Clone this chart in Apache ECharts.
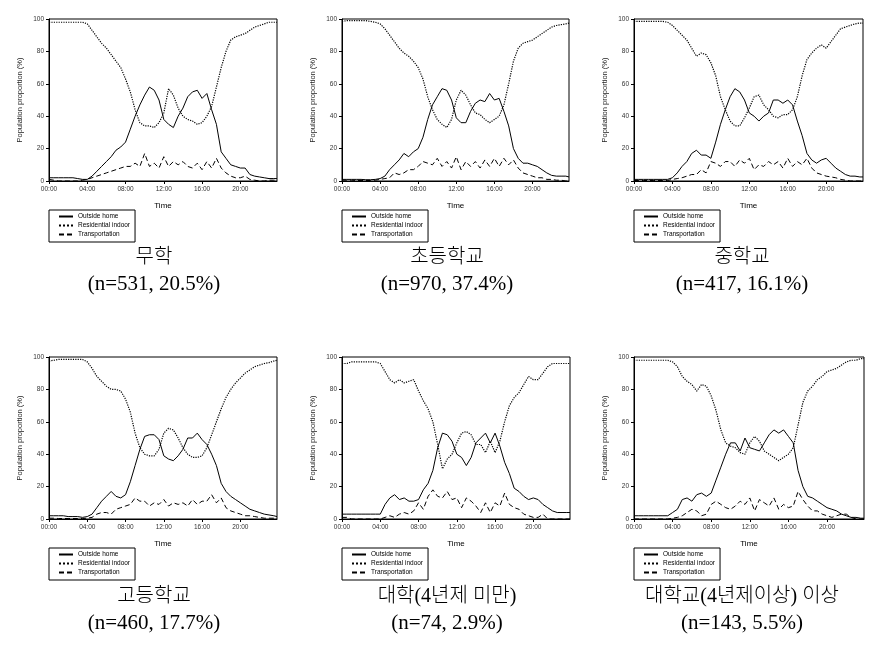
<!DOCTYPE html>
<html>
<head>
<meta charset="utf-8">
<script src="https://cdn.jsdelivr.net/npm/echarts@6/dist/echarts.min.js"></script>
<style>
html,body{margin:0;padding:0;background:#fff;}
#chart{width:883px;height:664px;}
</style>
</head>
<body>
<div id="chart"></div>
<script>
// time of day in hours (30-min steps, last point 23:50)
const times = [0,0.5,1,1.5,2,2.5,3,3.5,4,4.5,5,5.5,6,6.5,7,7.5,8,8.5,9,9.5,10,10.5,11,11.5,12,12.5,13,13.5,14,14.5,15,15.5,16,16.5,17,17.5,18,18.5,19,19.5,20,20.5,21,21.5,22,22.5,23,23.5,23.833];

const seriesNames = ['Outside home', 'Residential indoor', 'Transportation'];

const groupNames = ['무학', '초등학교', '중학교', '고등학교', '대학(4년제 미만)', '대학교(4년제이상) 이상'];
const groupSizes = ['(n=531, 20.5%)', '(n=970, 37.4%)', '(n=417, 16.1%)', '(n=460, 17.7%)', '(n=74, 2.9%)', '(n=143, 5.5%)'];

const xTicks = ['00:00', '04:00', '08:00', '12:00', '16:00', '20:00'];
const yTicks = [0, 20, 40, 60, 80, 100];

// 무학
const outside1 = [2,2,2,2,2,2,1.5,1,1,3,6,9,12,15,19,21,24,32,40,47,53,58,56,50,38,35,33,40,45,52,55,56,51,54,44,35,18,14,10,9,8,8,4,3,2.5,2,1.5,1.5,1.5];
const indoor1  = [98,98,98,98,98,98,98,98,97,93,89,85,82,78,74,70,63,55,44,36,34,34,33,36,42,57,53,45,40,38,37,35,36,40,46,58,70,80,87,89,90,91,93,95,96,97,98,98,98];
const transp1  = [1,0.5,0,0,0,0,0,0.5,1,2,3,4,5,6,7,8,9,9,11,9,17,9,11,8,15,9,12,10,12,9,8,11,7,12,8,14,8,5,3,2,2,3,1,0.5,0,0,0.5,0.5,0.5];

// 초등학교
const outside2 = [1,1,1,1,1,0.8,0.8,1,1.5,3,7,10,13,17,15,18,20,27,38,47,52,57,56,50,39,36,36,43,48,50,49,54,50,51,43,34,20,14,11,11,10,9,7,5,3.5,3,3,3,2.5];
const indoor2  = [98.5,99,99,99,99,99,98.5,98,97,94,90,86,82,79,77,74,70,63,52,44,38,35,33,38,50,56,53,47,42,41,38,36,38,40,47,60,74,82,85,86,87,89,91,93,95,96,96.5,97,97.5];
const transp2  = [0.5,0.5,0.5,0.3,0.3,0.3,0.3,0.5,1,1.5,2,5,4,5,7,7,9,12,11,10,14,9,12,8,15,7,12,9,12,8,13,9,14,9,14,10,13,8,5,4,3,2,2,1,1,0.5,0.5,0,0];

// 중학교
const outside3 = [1,1,1,1,1,1,1,1,2,5,9,12,17,19,16,16,14,24,35,44,52,57,55,50,42,40,37,40,42,50,50,48,50,47,37,28,17,13,11,13,14,11,8,6,4,3,3,2.5,2.5];
const indoor3  = [98.5,98.5,98.5,98.5,98.5,98.5,98.5,98,96,93,90,87,82,77,79,78,73,65,52,44,37,34,34,39,45,52,53,47,44,40,39,41,41,44,52,65,75,79,82,84,82,86,90,94,95,96,97,97.5,97.5];
const transp3  = [0.3,0.3,0.3,0.3,0.3,0.3,0.3,0.3,1,1.5,2,3,4,4,7,5,12,11,9,12,12,9,13,11,14,7,10,9,12,10,12,8,14,9,12,10,14,8,5,4,3,2.5,2,1,0.5,0,0,0,0];

// 고등학교
const outside4 = [2,2,2,2,1.5,1.5,1.5,1,1.5,3,7,11,14,17,14,13,15,23,33,43,51,52,52,49,39,37,36,39,43,50,50,53,49,46,40,33,22,17,14,12,10,8,6,5,4,3,2.5,2,1.5];
const indoor4  = [97.5,98,98.5,98.5,98.5,98.5,98.5,98.5,97,93,88,85,82,80,80,79,74,66,53,44,40,39,39,43,53,56,55,50,44,40,38,38,39,44,52,60,68,75,80,84,87,90,92,94,95,96,96.5,97.5,98];
const transp4  = [0.5,0.5,0.3,0.3,0.3,0.3,0.3,0.3,0.5,1,3,4,4,3,6,7,8,9,13,11,11,8,10,9,12,8,10,9,10,8,12,9,11,11,15,10,13,7,5,4,3,2,2,1.5,1,0.5,0.5,0.5,0.5];

// 대학(4년제 미만)
const outside5 = [3,3,3,3,3,3,3,3,3,9,13,15,12,13,11,11,12,18,22,30,44,53,52,48,40,38,33,38,47,50,53,47,53,45,35,28,19,17,14,12,13,12,9,7,5,4,4,4,4];
const indoor5  = [96,96,97,97,97,97,97,97,96,91,86,84,86,84,85,86,79,73,68,60,46,31,37,40,47,53,54,52,46,46,41,48,41,48,60,70,75,78,83,88,86,86,90,94,96,96,96,96,96];
const transp5  = [1,1,0,0,0,0,0,0,0,1,2,1,3,4,3,5,10,6,14,18,14,13,17,12,13,7,13,11,8,4,10,4,10,8,16,9,7,6,3,2,1,1,3,0,0,0,0,0,0];

// 대학교(4년제이상) 이상
const outside6 = [2,2,2,2,2,2,2,2,4,6,12,13,11,15,16,14,16,24,32,40,47,47,42,50,44,43,42,47,52,55,53,55,51,47,30,20,14,13,11,9,7,6,5,3,2,1,1,0.5,0.5];
const indoor6  = [98,98,98,98,98,98,98,98,97,94,88,85,83,79,83,82,76,67,55,47,45,44,41,40,47,51,48,42,40,38,36,38,40,44,58,72,79,82,86,88,91,92,93,95,97,98,98,99,99];
const transp6  = [0,0,0,0,0,0,0,0,0.5,1,2,4,6,5,2,3,9,11,9,7,6,8,11,9,13,5,12,10,8,13,6,9,7,8,17,12,8,5,5,3,2,1,2,3,3,1,0,0,0];

const panelData = [
  [outside1, indoor1, transp1],
  [outside2, indoor2, transp2],
  [outside3, indoor3, transp3],
  [outside4, indoor4, transp4],
  [outside5, indoor5, transp5],
  [outside6, indoor6, transp6]
];

// layout (pixels)
const gridBoxes = [
  {left: 49,  top: 19,  width: 228, height: 162},
  {left: 342, top: 19,  width: 227, height: 162},
  {left: 634, top: 19,  width: 229, height: 162},
  {left: 49,  top: 357, width: 228, height: 162},
  {left: 342, top: 357, width: 228, height: 162},
  {left: 634, top: 357, width: 230, height: 162}
];
const captionX = [154, 447, 742, 154, 447, 742];
const captionY = [[258, 284], [258, 284], [258, 284], [597, 623], [597, 623], [597, 623]];

const lineTypes = ['solid', 'dotted', [5, 3]];
const lineWidths = [1, 1.2, 1];
const sans = "'Liberation Sans', Arial, sans-serif";
const serifKR = "'Liberation Serif', 'Noto Sans CJK KR', serif";

function pairs(vals) { return times.map((t, i) => [t, vals[i]]); }
function fmtX(v) {
  if (Math.abs(v % 4) > 1e-6) return '';
  const idx = Math.round(v / 4);
  return xTicks[idx] || '';
}

const grids = [], xAxes = [], yAxes = [], series = [], legends = [], graphics = [];

gridBoxes.forEach((g, p) => {
  grids.push(Object.assign({show: true, borderColor: '#000', borderWidth: 1, backgroundColor: 'transparent', containLabel: false}, g));
  xAxes.push({
    type: 'value', gridIndex: p, min: 0, max: 23.833, interval: 4,
    name: 'Time', nameLocation: 'middle', nameGap: 21,
    nameTextStyle: {fontSize: 8, color: '#000', fontFamily: sans},
    axisLine: {show: true, lineStyle: {color: '#000', width: 1}},
    axisTick: {show: true, inside: false, length: 3, lineStyle: {color: '#000'}},
    axisLabel: {fontSize: 6.5, color: '#333', fontFamily: sans, margin: 5, formatter: fmtX, showMaxLabel: false},
    splitLine: {show: false}
  });
  yAxes.push({
    type: 'value', gridIndex: p, min: yTicks[0], max: yTicks[yTicks.length - 1], interval: 20,
    name: 'Population proportion (%)', nameLocation: 'middle', nameGap: 25, nameRotate: 90,
    nameTextStyle: {fontSize: 7.5, color: '#222', fontFamily: sans},
    axisLine: {show: true, lineStyle: {color: '#000', width: 1}},
    axisTick: {show: true, inside: false, length: 3, lineStyle: {color: '#000'}},
    axisLabel: {fontSize: 6.5, color: '#333', fontFamily: sans, margin: 5},
    splitLine: {show: false}
  });
  panelData[p].forEach((vals, s) => {
    series.push({
      name: seriesNames[s], type: 'line', xAxisIndex: p, yAxisIndex: p,
      data: pairs(vals), symbol: 'none', showSymbol: false, smooth: false,
      lineStyle: {color: '#000', width: lineWidths[s], type: lineTypes[s]},
      itemStyle: {color: '#000'},
      z: 3 - s
    });
  });
  legends.push({
    data: seriesNames, orient: 'vertical',
    left: g.left, top: g.top + g.height + 29,
    itemWidth: 14, itemHeight: 7, itemGap: 2,
    padding: [3, 5, 4, 9],
    borderColor: '#000', borderWidth: 1, borderRadius: 0,
    itemStyle: {color: 'transparent', borderColor: 'transparent', borderWidth: 0, opacity: 0},
    textStyle: {fontSize: 6.5, color: '#000', fontFamily: sans},
    selectedMode: false
  });
  graphics.push({
    type: 'text',
    x: captionX[p], y: captionY[p][0],
    style: {text: groupNames[p], textAlign: 'center', textVerticalAlign: 'middle', font: "300 20px " + serifKR, fill: '#000'}
  });
  graphics.push({
    type: 'text',
    x: captionX[p], y: captionY[p][1],
    style: {text: groupSizes[p], textAlign: 'center', textVerticalAlign: 'middle', font: "21px " + serifKR, fill: '#000'}
  });
});

const chart = echarts.init(document.getElementById('chart'), null, {renderer: 'canvas'});
chart.setOption({
  animation: false,
  backgroundColor: '#fff',
  grid: grids,
  xAxis: xAxes,
  yAxis: yAxes,
  legend: legends,
  series: series,
  graphic: graphics
});
</script>
</body>
</html>
